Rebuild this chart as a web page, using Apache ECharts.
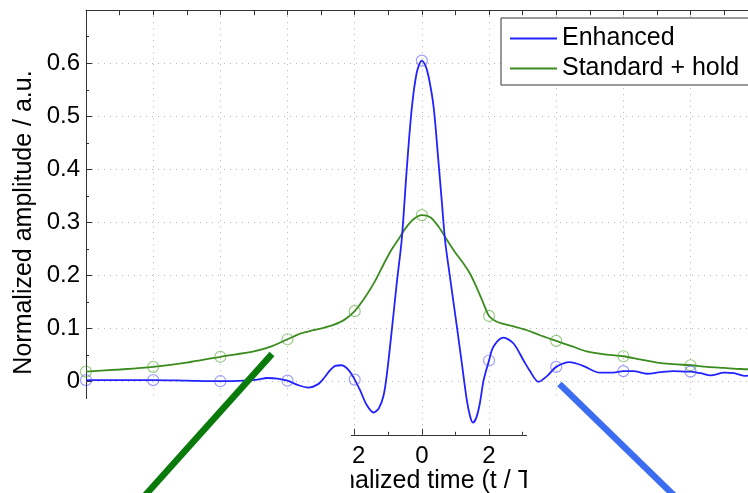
<!DOCTYPE html>
<html>
<head>
<meta charset="utf-8">
<script src="https://cdn.jsdelivr.net/npm/echarts@6/dist/echarts.min.js"></script>
<style>
  html, body { margin: 0; padding: 0; background: #ffffff; }
  #chart { width: 748px; height: 493px; }
</style>
</head>
<body>
<div id="chart"></div>
<script>
// Pulse responses over normalized time
const enhancedTime = [-10, -9, -8, -7, -6, -5.3, -4.9, -4.6, -4.3, -4, -3.7, -3.38, -3.1, -2.9, -2.73, -2.58, -2.4, -2.18, -2,
  -1.84, -1.64, -1.44, -1.28, -1.14, -1.04, -0.89, -0.74, -0.6, -0.45, -0.3, -0.15, 0, 0.1, 0.2, 0.35, 0.49, 0.6, 0.69,
  0.82, 1.04, 1.19, 1.34, 1.44, 1.52, 1.62, 1.72, 1.84, 2, 2.13, 2.43, 2.73, 3.02, 3.22, 3.47, 3.75, 4, 4.4, 4.8, 5.3,
  5.7, 6, 6.3, 6.7, 7.1, 7.5, 7.9, 8, 8.3, 8.6, 9, 9.3, 9.6, 10];
const enhancedAmp = [0.003, 0.003, 0.003, 0.002, 0.001, 0.002, 0.004, 0.007, 0.006, 0.002, -0.006, -0.011, -0.005, 0.008, 0.022, 0.030, 0.031, 0.022, 0.004,
  -0.016, -0.044, -0.058, -0.050, -0.026, 0.015, 0.100, 0.190, 0.267, 0.400, 0.515, 0.583, 0.605, 0.597, 0.575, 0.518, 0.418, 0.335, 0.267,
  0.205, 0.105, 0.035, -0.035, -0.066, -0.077, -0.068, -0.043, 0.003, 0.040, 0.066, 0.083, 0.072, 0.041, 0.020, 0.000, 0.012, 0.028, 0.037, 0.030, 0.017,
  0.017, 0.020, 0.020, 0.015, 0.018, 0.020, 0.019, 0.019, 0.016, 0.012, 0.017, 0.016, 0.011, 0.015];

const standardTime = [-10, -9, -8, -7, -6, -5, -4.5, -4, -3.6, -3.23, -2.9, -2.63, -2.3, -2, -1.7, -1.39, -1.1, -0.89, -0.7, -0.5,
  -0.25, 0, 0.25, 0.5, 0.74, 1.0, 1.25, 1.44, 1.65, 1.83, 2, 2.2, 2.43, 2.8, 3.13, 3.5, 4, 4.5, 4.91, 5.5, 6, 6.5, 7, 7.5,
  8, 8.5, 9, 9.5, 10];
const standardAmp = [0.019, 0.023, 0.028, 0.036, 0.047, 0.057, 0.066, 0.080, 0.091, 0.097, 0.102, 0.107, 0.117, 0.133, 0.158, 0.190, 0.226, 0.250, 0.268, 0.288,
  0.306, 0.314, 0.310, 0.292, 0.268, 0.243, 0.222, 0.203, 0.175, 0.148, 0.124, 0.114, 0.109, 0.103, 0.097, 0.088, 0.077, 0.066, 0.057, 0.051, 0.048, 0.042, 0.036, 0.033,
  0.031, 0.028, 0.026, 0.024, 0.023];

// Symbol-spaced samples (open circles)
const sampleTime = [-10, -8, -6, -4, -2, 0, 2, 4, 6, 8, 10];
const enhancedSamples = [0.003, 0.003, 0.001, 0.002, 0.004, 0.605, 0.040, 0.028, 0.020, 0.019, 0.015];
const standardSamples = [0.019, 0.028, 0.047, 0.080, 0.133, 0.314, 0.124, 0.077, 0.048, 0.031, 0.023];

// Tick labels
const xTickLabels = ['-10', '-8', '-6', '-4', '-2', '0', '2', '4', '6', '8', '10'];
const yTickLabels = ['0', '0.1', '0.2', '0.3', '0.4', '0.5', '0.6'];

// Zoom-callout guide lines (data coordinates, extending below the axes)
const calloutGreen = [[-4.462, 0.0522], [-8.90, -0.2606]];
const calloutBlue = [[4.097, -0.0043], [8.26, -0.2606]];

const FONT = '"Liberation Sans", Arial, Helvetica, sans-serif';
const BLUE = '#2222ff';
const GREEN = '#3b8c1f';

const zip = (xs, ys) => xs.map((x, i) => [x, ys[i]]);

const chart = echarts.init(document.getElementById('chart'), null, { renderer: 'canvas' });

const gridLine = { show: true, lineStyle: { color: '#b4b4b4', width: 1, type: [1, 5] } };

const option = {
  animation: false,
  backgroundColor: '#ffffff',
  textStyle: { fontFamily: FONT },
  grid: { left: 86, top: 10.2, right: -9.7, bottom: 58.2, containLabel: false, outerBoundsMode: 'none' },
  xAxis: [
    {
      type: 'value', position: 'bottom', min: -10, max: 10, interval: 2,
      axisLine: { show: true, onZero: false, lineStyle: { color: '#333', width: 1 } },
      axisTick: { show: true, inside: true, length: 6, lineStyle: { color: '#333' } },
      minorTick: { show: true, splitNumber: 2, length: 3, lineStyle: { color: '#333' } },
      axisLabel: {
        fontSize: 24, color: '#000', margin: 10, fontFamily: FONT,
        formatter: v => { const s = String(Math.round(v)); return xTickLabels.includes(s) ? s : ''; }
      },
      splitLine: gridLine,
      name: 'Normalized time (t / T{s|s})',
      nameLocation: 'middle', nameGap: 34, nameMoveOverlap: false,
      nameTextStyle: {
        fontSize: 25, color: '#000', fontFamily: FONT,
        rich: { s: { fontSize: 17, fontFamily: FONT, verticalAlign: 'bottom' } }
      }
    },
    {
      type: 'value', position: 'top', min: -10, max: 10, interval: 2,
      axisLine: { show: true, onZero: false, lineStyle: { color: '#333', width: 1 } },
      axisTick: { show: true, inside: true, length: 5, lineStyle: { color: '#333' } },
      minorTick: { show: true, splitNumber: 2, length: 5, lineStyle: { color: '#333' } },
      axisLabel: { show: false },
      splitLine: { show: false }
    }
  ],
  yAxis: {
    type: 'value', min: -0.1, max: 0.7, interval: 0.1,
    axisLine: { show: true, onZero: false, lineStyle: { color: '#333', width: 1 } },
    axisTick: { show: true, inside: true, length: 6, lineStyle: { color: '#333' } },
    minorTick: { show: true, splitNumber: 2, length: 3, lineStyle: { color: '#333' } },
    axisLabel: {
      fontSize: 24, color: '#000', margin: 6, fontFamily: FONT,
      formatter: v => { const s = String(Math.round(v * 100) / 100); return yTickLabels.includes(s) ? s : ''; }
    },
    splitLine: gridLine,
    name: 'Normalized amplitude / a.u.',
    nameLocation: 'middle', nameGap: 49, nameMoveOverlap: false,
    nameTextStyle: { fontSize: 25, color: '#000', fontFamily: FONT }
  },
  legend: {
    data: [
      { name: 'Enhanced', icon: 'rect' },
      { name: 'Standard + hold', icon: 'rect' }
    ],
    orient: 'vertical', left: 501, top: 18,
    itemWidth: 47, itemHeight: 2, itemGap: 5,
    padding: [8, 14, 4, 9],
    borderColor: '#333', borderWidth: 1, backgroundColor: '#ffffff',
    textStyle: { fontSize: 25, color: '#000', lineHeight: 25, fontFamily: FONT },
    z: 40
  },
  graphic: [
    { type: 'rect', shape: { x: 0, y: 399, width: 351, height: 100 }, style: { fill: '#ffffff' }, z: 50, silent: true },
    { type: 'rect', shape: { x: 527, y: 399, width: 240, height: 100 }, style: { fill: '#ffffff' }, z: 50, silent: true }
  ],
  series: [
    {
      name: 'Enhanced', type: 'line', data: zip(enhancedTime, enhancedAmp),
      smooth: 0.3, symbol: 'none', lineStyle: { color: BLUE, width: 1.8 }, itemStyle: { color: BLUE }, z: 3
    },
    {
      name: 'Standard + hold', type: 'line', data: zip(standardTime, standardAmp),
      smooth: 0.3, symbol: 'none', lineStyle: { color: GREEN, width: 1.8 }, itemStyle: { color: GREEN }, z: 2
    },
    {
      name: 'Enhanced samples', type: 'scatter', data: zip(sampleTime, enhancedSamples), clip: false,
      symbol: 'circle', symbolSize: 11,
      itemStyle: { color: 'transparent', borderColor: 'rgba(70,70,255,0.65)', borderWidth: 1.2 }, z: 4
    },
    {
      name: 'Standard samples', type: 'scatter', data: zip(sampleTime, standardSamples), clip: false,
      symbol: 'circle', symbolSize: 11,
      itemStyle: { color: 'transparent', borderColor: 'rgba(80,160,50,0.7)', borderWidth: 1.2 }, z: 4
    },
    {
      name: 'callout-green', type: 'line', data: calloutGreen, clip: false, symbol: 'none', silent: true,
      lineStyle: { color: '#0a7a0a', width: 6.5, cap: 'butt' }, z: 60
    },
    {
      name: 'callout-blue', type: 'line', data: calloutBlue, clip: false, symbol: 'none', silent: true,
      lineStyle: { color: '#3c6cf2', width: 6.5, cap: 'butt' }, z: 60
    }
  ]
};

chart.setOption(option);
</script>
</body>
</html>
